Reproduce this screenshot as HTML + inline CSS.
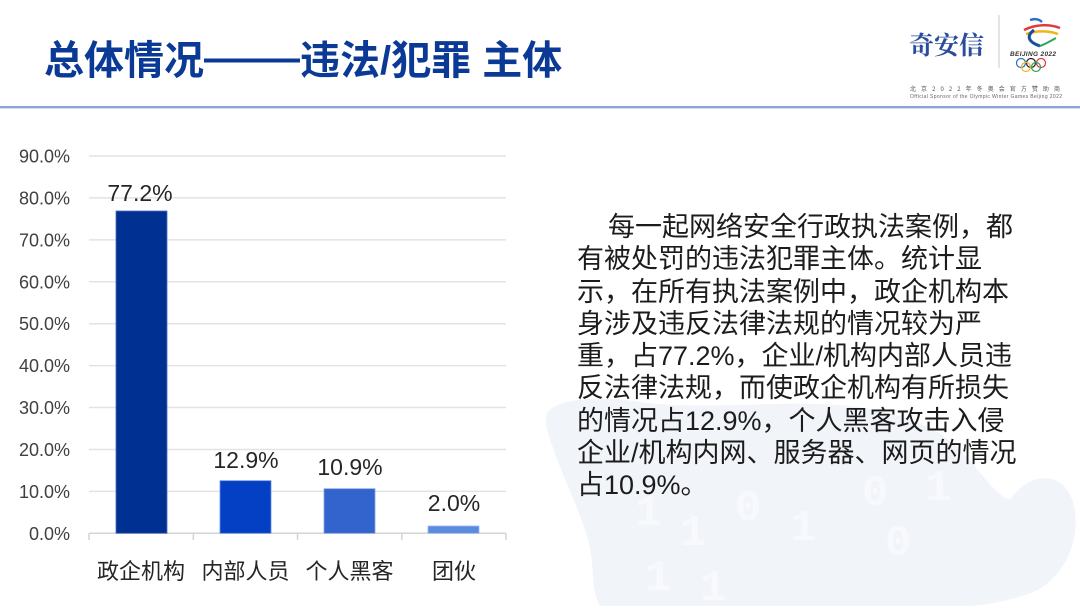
<!DOCTYPE html>
<html>
<head>
<meta charset="utf-8">
<style>
  html,body{margin:0;padding:0;background:#fff;}
  body{width:1080px;height:609px;position:relative;overflow:hidden;
       font-family:"Liberation Sans","Noto Sans CJK SC",sans-serif;}
  .abs{position:absolute;}
  #title{left:44px;top:36px;font-size:40px;font-weight:bold;color:#0b3a96;
         font-family:"Liberation Sans","Noto Sans CJK SC",sans-serif;white-space:nowrap;line-height:50px;}
  #title .d{font-family:"Liberation Sans",sans-serif;display:inline-block;transform:scaleX(1.2);
            transform-origin:left center;margin-right:16px;position:relative;top:-3px;}
  #rule{left:0;top:106px;width:1080px;height:2px;background:#8ea2d4;}
  #rule2{left:0;top:108px;width:1080px;height:1px;background:#d6deef;}
  #para{left:577px;top:211px;font-size:27px;line-height:32.3px;color:#1c1c1c;white-space:nowrap;
        font-family:"Liberation Sans","Noto Sans CJK SC",sans-serif;}
</style>
</head>
<body>

<!-- watermark -->
<svg class="abs" style="left:0;top:0" width="1080" height="609" viewBox="0 0 1080 609">
  <path d="M548,412 C560,398 600,396 640,402 C700,410 760,402 820,404 C880,406 930,420 960,450
           C980,470 995,495 1010,500 C1030,470 1065,470 1074,505 C1082,545 1060,585 1025,595
           C1000,603 980,606 960,606 L600,606 C590,590 596,560 585,530 C575,500 560,470 552,445
           C546,430 544,420 548,412 Z" fill="#f1f4f9"/>
  <g fill="#f8f9fc" font-family="Liberation Mono, monospace" font-weight="bold" font-size="44">
    <text x="635" y="525">1</text>
    <text x="680" y="545">1</text>
    <text x="735" y="520">0</text>
    <text x="790" y="540">1</text>
    <text x="862" y="505">0</text>
    <text x="885" y="555">0</text>
    <text x="925" y="500">1</text>
    <text x="645" y="590">1</text>
    <text x="700" y="600">1</text>
  </g>
</svg>

<div id="title" class="abs">总体情况<span class="d">——</span>违法/犯罪 主体</div>
<div id="rule" class="abs"></div>
<div id="rule2" class="abs"></div>

<!-- logo -->
<svg class="abs" style="left:880px;top:0" width="200" height="106" viewBox="880 0 200 106">
  <text x="909" y="54" font-family="Noto Serif CJK SC, serif" font-size="25" font-weight="bold" fill="#2b4c9b">奇安信</text>
  <line x1="999" y1="15" x2="999" y2="68" stroke="#c8c8c8" stroke-width="1"/>
  <path d="M1030,20 C1036,18 1040,20 1042,22" stroke="#2c6fc4" stroke-width="2.5" fill="none"/>
  <path d="M1024,30 C1036,24 1050,24 1060,28" stroke="#e23a3a" stroke-width="2.5" fill="none"/>
  <path d="M1026,34 C1038,30 1050,31 1058,34" stroke="#f2b31b" stroke-width="2.5" fill="none"/>
  <path d="M1034,30 C1026,36 1028,42 1040,46" stroke="#1a4fa0" stroke-width="3" fill="none"/>
  <path d="M1040,46 C1046,44 1052,40 1056,38" stroke="#2da55a" stroke-width="2" fill="none"/>
  <text x="1010" y="56" font-family="Liberation Sans, sans-serif" font-size="6.5" font-weight="bold" font-style="italic" fill="#333" textLength="46">BEIJING 2022</text>
  <g fill="none" stroke-width="1.2">
    <circle cx="1021" cy="63" r="4.5" stroke="#2b6ec8"/>
    <circle cx="1031" cy="63" r="4.5" stroke="#222"/>
    <circle cx="1041" cy="63" r="4.5" stroke="#e2343a"/>
    <circle cx="1026" cy="67" r="4.5" stroke="#f2b31b"/>
    <circle cx="1036" cy="67" r="4.5" stroke="#2da55a"/>
  </g>
  <text x="910" y="91" font-family="Noto Sans CJK SC, sans-serif" font-size="6" fill="#555" textLength="150">北京2022年冬奥会官方赞助商</text>
  <text x="910" y="98" font-family="Liberation Sans, sans-serif" font-size="5" fill="#666" textLength="152">Official Sponsor of the Olympic Winter Games Beijing 2022</text>
</svg>

<!-- chart -->
<svg class="abs" style="left:0;top:0" width="560" height="609" viewBox="0 0 560 609">
  <g stroke="#e3e3e3" stroke-width="1.5">
    <line x1="89" y1="156" x2="506" y2="156"/>
    <line x1="89" y1="197.9" x2="506" y2="197.9"/>
    <line x1="89" y1="239.9" x2="506" y2="239.9"/>
    <line x1="89" y1="281.8" x2="506" y2="281.8"/>
    <line x1="89" y1="323.7" x2="506" y2="323.7"/>
    <line x1="89" y1="365.6" x2="506" y2="365.6"/>
    <line x1="89" y1="407.5" x2="506" y2="407.5"/>
    <line x1="89" y1="449.5" x2="506" y2="449.5"/>
    <line x1="89" y1="491.4" x2="506" y2="491.4"/>
  </g>
  <g stroke="#d4d4d4" stroke-width="1.5">
    <line x1="89" y1="533.3" x2="506" y2="533.3"/>
    <line x1="89" y1="533.3" x2="89" y2="540"/>
    <line x1="193.3" y1="533.3" x2="193.3" y2="540"/>
    <line x1="297.5" y1="533.3" x2="297.5" y2="540"/>
    <line x1="401.8" y1="533.3" x2="401.8" y2="540"/>
    <line x1="506" y1="533.3" x2="506" y2="540"/>
  </g>
  <g font-family="Liberation Sans, sans-serif" font-size="18" fill="#404040" text-anchor="end">
    <text x="70" y="162.5">90.0%</text>
    <text x="70" y="204.4">80.0%</text>
    <text x="70" y="246.4">70.0%</text>
    <text x="70" y="288.3">60.0%</text>
    <text x="70" y="330.2">50.0%</text>
    <text x="70" y="372.1">40.0%</text>
    <text x="70" y="414">30.0%</text>
    <text x="70" y="456">20.0%</text>
    <text x="70" y="497.9">10.0%</text>
    <text x="70" y="539.8">0.0%</text>
  </g>
  <rect x="116" y="211" width="51" height="322.3" fill="#003192" stroke="#4a6fc4" stroke-width="0.8"/>
  <rect x="220" y="480.7" width="51" height="52.6" fill="#0440c4" stroke="#6a8fe0" stroke-width="0.8"/>
  <rect x="324" y="488.7" width="51" height="44.6" fill="#3363cc" stroke="#86a4e6" stroke-width="0.8"/>
  <rect x="428" y="526" width="51" height="7.3" fill="#5b8bde" stroke="#9bb8ee" stroke-width="0.8"/>
  <g font-family="Liberation Sans, sans-serif" font-size="23" fill="#262626" text-anchor="middle">
    <text x="140" y="201">77.2%</text>
    <text x="246" y="468">12.9%</text>
    <text x="350" y="475">10.9%</text>
    <text x="454" y="511">2.0%</text>
  </g>
  <g font-family="Liberation Sans, Noto Sans CJK SC, sans-serif" font-size="22" fill="#262626" text-anchor="middle">
    <text x="141" y="579">政企机构</text>
    <text x="245.5" y="579">内部人员</text>
    <text x="349.5" y="579">个人黑客</text>
    <text x="454" y="579">团伙</text>
  </g>
</svg>

<div id="para" class="abs"><span style="padding-left:31px">每一起网络安全行政执法案例，都</span><br>有被处罚的违法犯罪主体。统计显<br>示，在所有执法案例中，政企机构本<br>身涉及违反法律法规的情况较为严<br>重，占77.2%，企业/机构内部人员违<br>反法律法规，而使政企机构有所损失<br>的情况占12.9%，个人黑客攻击入侵<br>企业/机构内网、服务器、网页的情况<br>占10.9%。</div>

</body>
</html>
